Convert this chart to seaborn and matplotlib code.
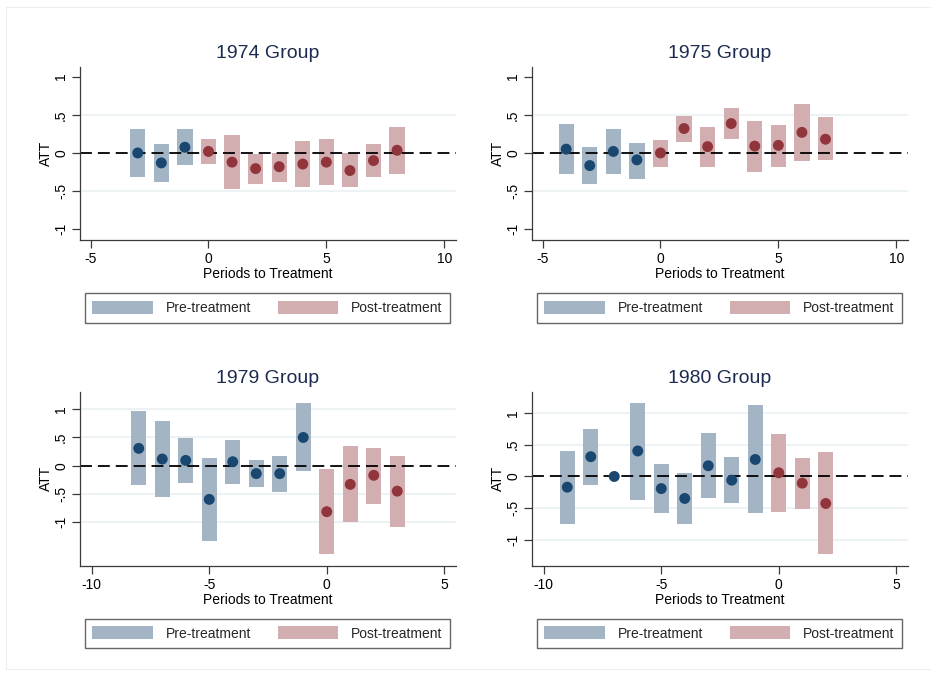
import numpy as np
import pandas as pd
import matplotlib
matplotlib.use("Agg")
import matplotlib.pyplot as plt
from matplotlib.patches import Patch
from matplotlib.lines import Line2D
import seaborn as sns

# ---------------- data ----------------
titles = ["1974 Group", "1975 Group", "1979 Group", "1980 Group"]

x_1974 = [-3, -2, -1, 0, 1, 2, 3, 4, 5, 6, 7, 8]
att_1974 = [0.00, -0.13, 0.075, 0.02, -0.12, -0.205, -0.18, -0.145, -0.12, -0.23, -0.10, 0.035]
lo_1974 = [-0.31, -0.38, -0.16, -0.15, -0.47, -0.41, -0.375, -0.44, -0.42, -0.445, -0.32, -0.27]
hi_1974 = [0.31, 0.12, 0.31, 0.18, 0.23, -0.01, 0.00, 0.16, 0.18, 0.00, 0.12, 0.34]

x_1975 = [-4, -3, -2, -1, 0, 1, 2, 3, 4, 5, 6, 7]
att_1975 = [0.05, -0.165, 0.02, -0.09, 0.00, 0.32, 0.083, 0.385, 0.09, 0.10, 0.27, 0.18]
lo_1975 = [-0.28, -0.405, -0.275, -0.335, -0.18, 0.14, -0.18, 0.18, -0.245, -0.18, -0.10, -0.095]
hi_1975 = [0.38, 0.075, 0.31, 0.135, 0.175, 0.49, 0.34, 0.59, 0.42, 0.37, 0.64, 0.47]

x_1979 = [-8, -7, -6, -5, -4, -3, -2, -1, 0, 1, 2, 3]
att_1979 = [0.307, 0.118, 0.094, -0.596, 0.07, -0.14, -0.14, 0.50, -0.814, -0.33, -0.17, -0.45]
lo_1979 = [-0.35, -0.55, -0.307, -1.33, -0.32, -0.378, -0.46, -0.094, -1.57, -0.997, -0.67, -1.08]
hi_1979 = [0.96, 0.785, 0.49, 0.14, 0.455, 0.106, 0.18, 1.11, -0.053, 0.34, 0.32, 0.177]

x_1980 = [-9, -8, -7, -6, -5, -4, -3, -2, -1, 0, 1, 2]
att_1980 = [-0.168, 0.31, 0.0, 0.40, -0.19, -0.345, 0.168, -0.058, 0.267, 0.058, -0.105, -0.424]
lo_1980 = [-0.74, -0.14, 0.0, -0.37, -0.58, -0.75, -0.34, -0.41, -0.58, -0.56, -0.51, -1.22]
hi_1980 = [0.40, 0.75, 0.0, 1.15, 0.19, 0.047, 0.68, 0.30, 1.115, 0.67, 0.29, 0.39]

y_ticks = [-1, -0.5, 0, 0.5, 1]
y_ticklabels = ["-1", "-.5", "0", ".5", "1"]
legend_labels = ["Pre-treatment", "Post-treatment"]

# ---------------- style ----------------
sns.set_theme(style="white")
plt.rcParams["font.family"] = ["Liberation Sans", "DejaVu Sans"]

W, H = 931, 679
fig = plt.figure(figsize=(W / 100, H / 100), dpi=100)
fig.patch.set_facecolor("white")

navy = "#1a476f"
maroon = "#90353b"
pre_box = "#a3b5c5"
post_box = "#d3aeb1"
grid_c = "#e8f0f2"
title_c = "#1e2b50"

panels = [
    (x_1974, att_1974, lo_1974, hi_1974, (80, 66.7, 456, 240), (-5.45, 10.5), (-1.14, 1.13), [-5, 0, 5, 10], [-0.5, 0.5]),
    (x_1975, att_1975, lo_1975, hi_1975, (532, 66.7, 908, 240), (-5.45, 10.5), (-1.14, 1.13), [-5, 0, 5, 10], [-0.5, 0.5]),
    (x_1979, att_1979, lo_1979, hi_1979, (80, 391.7, 456, 565.7), (-10.5, 5.5), (-1.77, 1.31), [-10, -5, 0, 5], [-1, -0.5, 0.5, 1]),
    (x_1980, att_1980, lo_1980, hi_1980, (532, 391.7, 908, 565.7), (-10.5, 5.5), (-1.40, 1.33), [-10, -5, 0, 5], [-1, -0.5, 0.5, 1]),
]
legend_centers = [(267.5, 308), (719.5, 308), (267.5, 633.5), (719.5, 633.5)]

for i, (xs, att, lo, hi, box, xl, yl, xt, grids) in enumerate(panels):
    l, t, r, b = box
    ax = fig.add_axes([l / W, 1 - b / H, (r - l) / W, (b - t) / H])
    df = pd.DataFrame({"period": xs, "att": att, "lo": lo, "hi": hi})
    df["phase"] = np.where(df["period"] < 0, legend_labels[0], legend_labels[1])

    for g in grids:
        ax.axhline(g, color=grid_c, lw=1.1, zorder=0)

    for phase, col in [(legend_labels[0], pre_box), (legend_labels[1], post_box)]:
        sub = df[df["phase"] == phase]
        ax.bar(sub["period"], sub["hi"] - sub["lo"], bottom=sub["lo"], width=0.65,
               color=col, edgecolor="none", zorder=1)

    ax.axhline(0, color="black", lw=1.3, dashes=(6.6, 3.3), zorder=2)

    sns.scatterplot(data=df, x="period", y="att", hue="phase",
                    palette={legend_labels[0]: navy, legend_labels[1]: maroon},
                    s=62, edgecolor="none", legend=False, ax=ax, zorder=3)

    ax.set_xlim(*xl)
    ax.set_ylim(*yl)
    ax.set_xticks(xt)
    ax.set_xticklabels([str(v) for v in xt])
    ax.set_yticks(y_ticks)
    ax.set_yticklabels(y_ticklabels)
    ax.tick_params(axis="y", labelrotation=90)
    for lab in ax.get_yticklabels():
        lab.set_va("center")
    ax.tick_params(axis="both", which="major", direction="out", length=5.5, width=0.9,
                   color="#3a3a3a", labelsize=10, labelcolor="black", pad=3,
                   bottom=True, left=True)
    for s in ["top", "right"]:
        ax.spines[s].set_visible(False)
    for s in ["left", "bottom"]:
        ax.spines[s].set_color("#3a3a3a")
        ax.spines[s].set_linewidth(0.9)
    ax.set_facecolor("white")
    ax.grid(False)

    ax.set_title(titles[i], fontsize=14, color=title_c, pad=6)
    ax.set_xlabel("Periods to Treatment", fontsize=10, color="black", labelpad=1)
    ax.set_ylabel("ATT", fontsize=10, color="black", labelpad=1)

    handles = [Patch(facecolor=pre_box, edgecolor="none"),
               Patch(facecolor=post_box, edgecolor="none")]
    cx, cy = legend_centers[i]
    leg = fig.legend(handles, legend_labels, loc="center",
                     bbox_to_anchor=(cx / W, 1 - cy / H), ncol=2, fontsize=10,
                     frameon=True, fancybox=False, shadow=False, framealpha=1,
                     edgecolor="#666666", handlelength=4.36, handleheight=1.07,
                     handletextpad=0.93, columnspacing=1.93, borderpad=0.55,
                     borderaxespad=0)
    leg.get_frame().set_linewidth(1.0)

# faint outer border
for (x0, y0, x1, y1) in [(6, 7, 931, 7), (6, 7, 6, 669), (6, 669, 931, 669)]:
    fig.add_artist(Line2D([x0 / W, x1 / W], [1 - y0 / H, 1 - y1 / H],
                          transform=fig.transFigure, color="#eeeeee", lw=0.8))

fig.savefig("out.png", dpi=100, facecolor="white")
